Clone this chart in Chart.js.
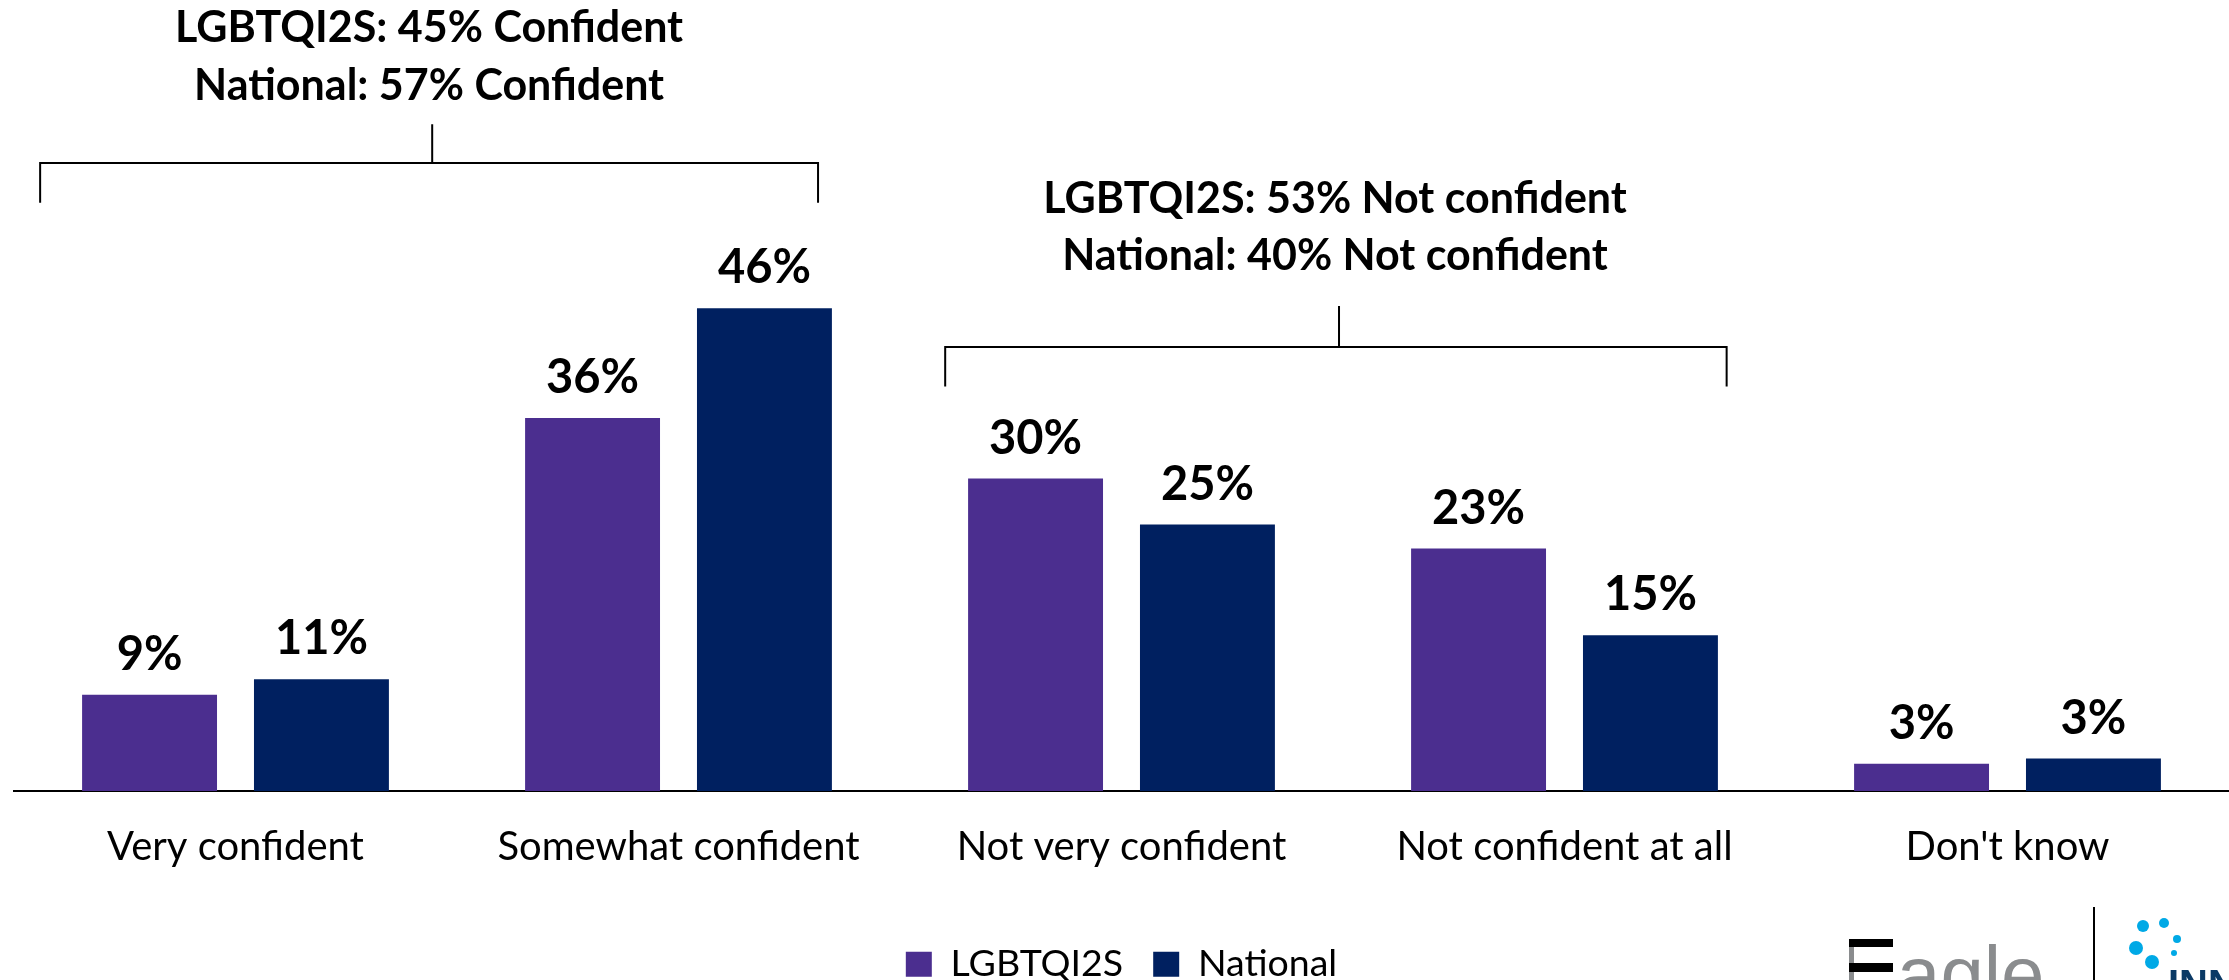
<!DOCTYPE html>
<html><head><meta charset="utf-8">
<script src="https://cdn.jsdelivr.net/npm/chart.js@4.4.1/dist/chart.umd.min.js"></script>
<style>html,body{margin:0;padding:0;background:#fff;overflow:hidden}#wrap{width:2229px;height:980px;position:relative}canvas{display:block}</style>
</head><body><div id="wrap"><canvas id="c" width="2229" height="980" style="width:2229px;height:980px"></canvas></div>
<script>
// ---- data ----
const categories = ["Very confident", "Somewhat confident", "Not very confident", "Not confident at all", "Don't know"];
const seriesNames = ["LGBTQI2S", "National"];
const lgbtqValues = [9.2, 35.7, 29.9, 23.2, 2.6];
const nationalValues = [10.7, 46.2, 25.5, 14.9, 3.1];
const lgbtqLabels = ["9%", "36%", "30%", "23%", "3%"];
const nationalLabels = ["11%", "46%", "25%", "15%", "3%"];
const confidentSummary = ["LGBTQI2S: 45% Confident", "National: 57% Confident"];
const notConfidentSummary = ["LGBTQI2S: 53% Not confident", "National: 40% Not confident"];

// ---- style ----
const PURPLE = "#4B2E8F";
const NAVY = "#002060";
const FONT = "Lato, 'Open Sans', sans-serif";

// bracket annotations: x in category index + fraction of category width, y in value units
const brackets = [
  { lines: confidentSummary, from: [0, -0.441], to: [1, 0.315], tick: [0, 0.444], text: [0, 0.437],
    textY: [71.7, 66.1], tickTop: 63.8, bar: 60.1, ends: 56.3 },
  { lines: notConfidentSummary, from: [2, -0.398], to: [3, 0.366], tick: [2, 0.491], text: [2, 0.482],
    textY: [55.3, 49.9], tickTop: 46.4, bar: 42.5, ends: 38.7 }
];

const overlay = {
  id: 'overlay',
  afterDatasetsDraw(chart) {
    const ctx = chart.ctx;
    const xs = chart.scales.x, ys = chart.scales.y;
    const w = xs.getPixelForValue(1) - xs.getPixelForValue(0);
    const px = (p) => xs.getPixelForValue(p[0]) + p[1] * w;
    ctx.save();
    ctx.fillStyle = "#000";
    ctx.font = "bold 47px " + FONT;
    ctx.textAlign = "center";
    ctx.textBaseline = "alphabetic";
    const labelSets = [lgbtqLabels, nationalLabels];
    chart.data.datasets.forEach((ds, di) => {
      chart.getDatasetMeta(di).data.forEach((bar, i) => {
        ctx.fillText(labelSets[di][i], bar.x, bar.y - 25);
      });
    });
    ctx.strokeStyle = "#000";
    ctx.lineWidth = 2;
    ctx.font = "bold 43px " + FONT;
    brackets.forEach(b => {
      const x1 = px(b.from), x2 = px(b.to), xt = px(b.tick);
      const yb = ys.getPixelForValue(b.bar), ye = ys.getPixelForValue(b.ends), yt = ys.getPixelForValue(b.tickTop);
      ctx.beginPath();
      ctx.moveTo(x1, ye); ctx.lineTo(x1, yb); ctx.lineTo(x2, yb); ctx.lineTo(x2, ye);
      ctx.moveTo(xt, yt); ctx.lineTo(xt, yb);
      ctx.stroke();
      b.lines.forEach((t, k) => ctx.fillText(t, px(b.text), ys.getPixelForValue(b.textY[k])));
    });
    ctx.restore();
  },
  afterDraw(chart) {
    const ctx = chart.ctx;
    ctx.save();
    ctx.fillStyle = "#8a8c8e";
    ctx.fillRect(1849, 939, 5, 41);
    ctx.fillStyle = "#000";
    ctx.fillRect(1849, 939, 44, 8);
    ctx.fillRect(1849, 963, 44, 9);
    ctx.fillStyle = "#8a8c8e";
    ctx.font = "78px 'Liberation Sans', sans-serif";
    ctx.textAlign = "left";
    ctx.textBaseline = "alphabetic";
    ctx.fillText("agle", 1897, 1001);
    ctx.fillStyle = "#000";
    ctx.fillRect(2093, 907, 2, 73);
    ctx.fillStyle = "#00A9E6";
    [[2143, 926, 6], [2164, 923, 5], [2177, 939, 4], [2136, 948, 7], [2174, 953, 3], [2152, 962, 7]].forEach(d => {
      ctx.beginPath(); ctx.arc(d[0], d[1], d[2], 0, Math.PI * 2); ctx.fill();
    });
    ctx.fillStyle = "#0B3A66";
    ctx.font = "bold 40px 'Liberation Sans', sans-serif";
    ctx.fillText("INN", 2168, 998);
    ctx.restore();
  }
};

new Chart(document.getElementById('c'), {
  type: 'bar',
  data: {
    labels: categories,
    datasets: [
      { label: seriesNames[0], data: lgbtqValues, backgroundColor: PURPLE, borderWidth: 0 },
      { label: seriesNames[1], data: nationalValues, backgroundColor: NAVY, borderWidth: 0 }
    ]
  },
  options: {
    responsive: false,
    maintainAspectRatio: false,
    animation: false,
    devicePixelRatio: 1,
    categoryPercentage: 0.776,
    barPercentage: 0.785,
    layout: { padding: { top: 59.5, left: 14, right: 0, bottom: -13 } },
    plugins: {
      tooltip: { enabled: false },
      legend: {
        position: 'bottom',
        labels: { font: { family: FONT, size: 37.5 }, color: '#000', boxWidth: 26, boxHeight: 25, padding: 30 }
      }
    },
    scales: {
      x: {
        grid: { display: false, drawTicks: false },
        border: { display: true, color: '#000', width: 2 },
        ticks: { font: { family: FONT, size: 40 }, color: '#000', padding: 32, maxRotation: 0, autoSkip: false },
        afterFit(scale) { scale.height += 12.5; }
      },
      y: { display: false, min: 0, max: 70 }
    }
  },
  plugins: [overlay]
});
</script>
</body></html>
